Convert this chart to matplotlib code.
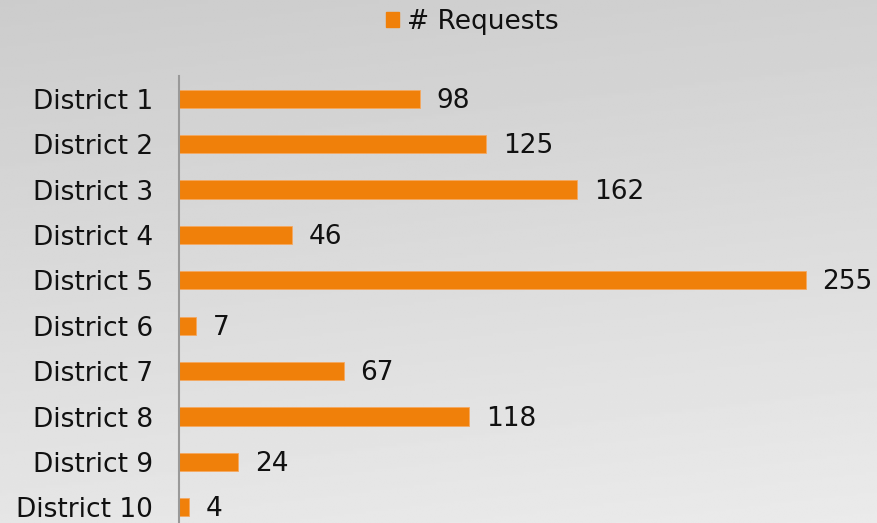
import matplotlib
matplotlib.use('Agg')
import matplotlib.pyplot as plt
import numpy as np
from matplotlib.patches import Patch

# data
districts = ['District 1', 'District 2', 'District 3', 'District 4', 'District 5',
             'District 6', 'District 7', 'District 8', 'District 9', 'District 10']
requests = [98, 125, 162, 46, 255, 7, 67, 118, 24, 4]

ORANGE = '#f0800a'
TXT = '#111111'
FS = 19

fig = plt.figure(figsize=(8.77, 5.23), dpi=100)

# gray gradient background
bg = fig.add_axes([0, 0, 1, 1], zorder=-10)
yy, xx = np.mgrid[0:1:200j, 0:1:200j]
grad = 0.80 + 0.10 * yy + 0.02 * xx
bg.imshow(grad, cmap='gray', vmin=0, vmax=1, aspect='auto',
          extent=[0, 1, 0, 1], origin='upper')
bg.axis('off')

ax = fig.add_axes([179 / 877, -7 / 523, 1 - 179 / 877, 454 / 523])
ax.patch.set_alpha(0)
ypos = np.arange(len(districts))
ax.barh(ypos, requests, height=0.4, color=ORANGE,
        edgecolor='#f5a860', linewidth=0.6, label='# Requests')
ax.set_ylim(9.5, -0.5)
ax.set_xlim(0, 284)
ax.set_yticks(ypos)
ax.set_yticklabels(districts, fontsize=FS, color=TXT)
ax.tick_params(axis='y', length=0, pad=18.5)
ax.set_xticks([])
for s in ['top', 'right', 'bottom']:
    ax.spines[s].set_visible(False)
ax.spines['left'].set_color('#999999')
ax.spines['left'].set_linewidth(1.5)

for y, v in zip(ypos, requests):
    ax.annotate(str(v), xy=(v, y), xytext=(12, -1.5), textcoords='offset points',
                ha='left', va='center', fontsize=FS, color=TXT)

fig.legend(handles=[Patch(color=ORANGE, label='# Requests')],
           loc='center', bbox_to_anchor=(472 / 877, 1 - 22 / 523),
           frameon=False, fontsize=FS, handlelength=0.5, handleheight=0.5,
           handletextpad=0.3, labelcolor=TXT)

fig.savefig('out.png', dpi=100)
